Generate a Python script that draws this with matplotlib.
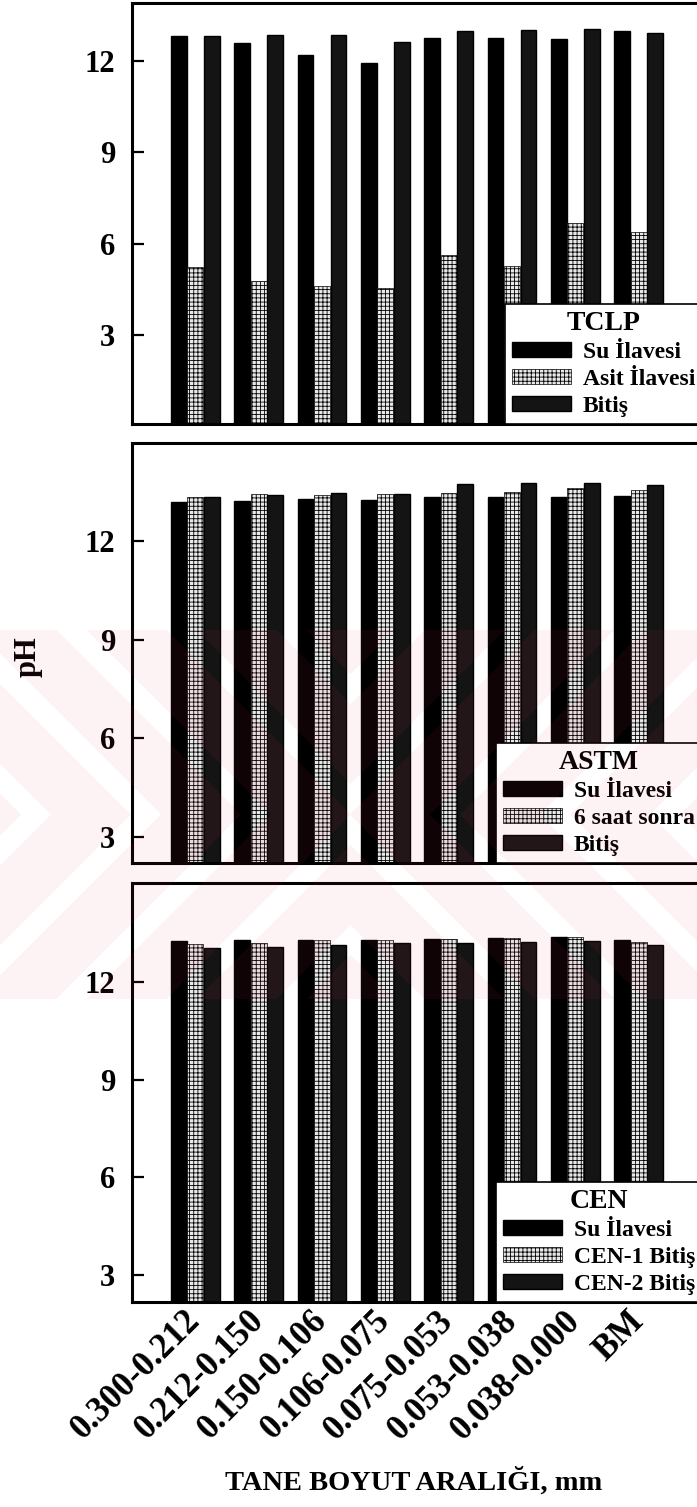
import numpy as np
import matplotlib
matplotlib.use('Agg')
import matplotlib.pyplot as plt

plt.rcParams['font.family'] = ['Liberation Serif', 'DejaVu Serif']
plt.rcParams['font.weight'] = 'bold'
plt.rcParams['hatch.linewidth'] = 0.6

sizes = ['0.300-0.212', '0.212-0.150', '0.150-0.106', '0.106-0.075',
         '0.075-0.053', '0.053-0.038', '0.038-0.000', 'BM']

# TCLP
tclp_su = [12.82, 12.59, 12.20, 11.94, 12.76, 12.76, 12.72, 12.99]
tclp_asit = [5.23, 4.77, 4.61, 4.54, 5.63, 5.27, 6.68, 6.38]
tclp_bitis = [12.82, 12.86, 12.86, 12.63, 12.99, 13.02, 13.05, 12.92]

# ASTM
astm_su = [13.20, 13.23, 13.28, 13.25, 13.35, 13.35, 13.35, 13.38]
astm_6saat = [13.35, 13.45, 13.43, 13.45, 13.49, 13.50, 13.64, 13.56]
astm_bitis = [13.35, 13.41, 13.49, 13.45, 13.76, 13.77, 13.77, 13.71]

# CEN
cen_su = [13.26, 13.29, 13.29, 13.29, 13.32, 13.34, 13.37, 13.29]
cen_1 = [13.16, 13.21, 13.29, 13.29, 13.32, 13.34, 13.37, 13.24]
cen_2 = [13.05, 13.08, 13.14, 13.19, 13.19, 13.24, 13.27, 13.14]

panels = [
    ('TCLP', ['Su İlavesi', 'Asit İlavesi', 'Bitiş'],
     [tclp_su, tclp_asit, tclp_bitis], (0.08, 13.9), [0.1894, 0.7186, 0.8178, 0.2794]),
    ('ASTM', ['Su İlavesi', '6 saat sonra', 'Bitiş'],
     [astm_su, astm_6saat, astm_bitis], (2.2, 15.0), [0.1894, 0.4273, 0.8178, 0.2787]),
    ('CEN', ['Su İlavesi', 'CEN-1 Bitiş', 'CEN-2 Bitiş'],
     [cen_su, cen_1, cen_2], (2.17, 15.04), [0.1894, 0.1360, 0.8178, 0.2780]),
]

styles = [
    dict(color='black', edgecolor='black'),
    dict(color='#e8e8e8', edgecolor='black', hatch='++++', linewidth=0.5),
    dict(color='#141414', edgecolor='black'),
]

fig = plt.figure(figsize=(6.97, 15.07), dpi=100)
x = np.arange(len(sizes))
w = 0.25
offs = [-0.26, 0.0, 0.26]

for k, (title, labels, series, ylim, rect) in enumerate(panels):
    ax = fig.add_axes(rect)
    for vals, lab, st, o in zip(series, labels, styles, offs):
        ax.bar(x + o, vals, w, label=lab, **st)
    ax.set_xlim(-1, 8)
    ax.set_ylim(*ylim)
    ax.set_yticks([3, 6, 9, 12])
    ax.tick_params(axis='y', direction='in', length=8.5, width=1.6,
                   labelsize=22, pad=12)
    ax.tick_params(axis='x', length=0)
    for s in ax.spines.values():
        s.set_linewidth(2.2)
    if k == 2:
        ax.set_xticks(x)
        ax.set_xticklabels(sizes, rotation=45, ha='right', va='center',
                           rotation_mode='anchor', fontsize=25)
        ax.tick_params(axis='x', pad=10)
    else:
        ax.set_xticks([])
    leg = ax.legend(loc='lower right', bbox_to_anchor=(1.0, 0.0), borderaxespad=0,
                    title=title, fontsize=17, title_fontproperties={'size': 20, 'weight': 'bold'},
                    frameon=True, fancybox=False, framealpha=1, edgecolor='black',
                    handlelength=2.5, handleheight=0.6, labelspacing=0.25,
                    borderpad=0.3, handletextpad=0.5)
    leg.get_frame().set_linewidth(1.2)

fig.text(28 / 697, 1 - 657 / 1507, 'pH', rotation=90, fontsize=22,
         ha='center', va='center')
fig.text(414 / 697, 1 - 1482 / 1507, 'TANE BOYUT ARALIĞI, mm', fontsize=20.5,
         ha='center', va='center')

# pink watermark of the scan
H, W = 1507, 697
yy, xx = np.mgrid[0:H, 0:W]
band = (yy >= 630) & (yy <= 998)
stripe = np.mod(np.abs(xx - 350) - np.abs(yy - 814), 110) < 80
wm = np.zeros((H, W, 4))
wm[..., 0] = 235 / 255
wm[..., 1] = 60 / 255
wm[..., 2] = 90 / 255
wm[..., 3] = (band & stripe) * 0.07
fig.figimage(wm, xo=0, yo=0, origin='upper', zorder=10)

fig.savefig('out.png', dpi=100)
